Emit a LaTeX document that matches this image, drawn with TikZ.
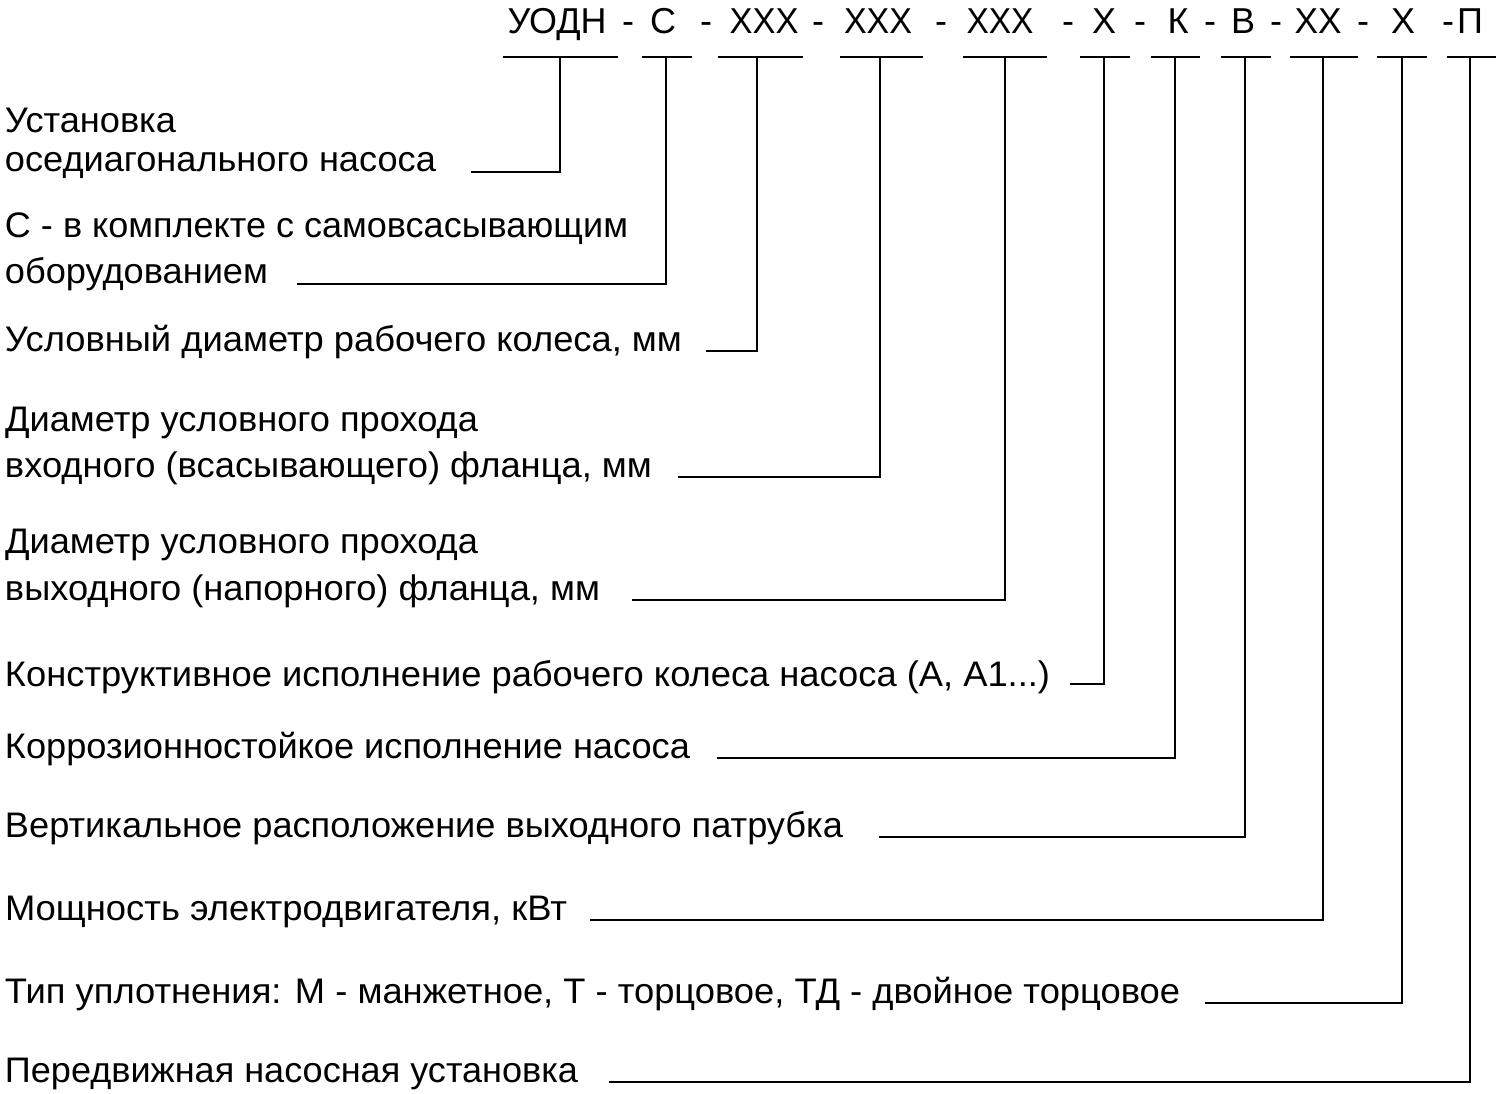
\documentclass[tikz,border=0pt]{standalone}
\usepackage{fontspec}
\setmainfont{Liberation Sans}
\usepackage{graphicx}
\newcommand\fitw[2]{\resizebox{#1pt}{\height}{#2}}
\begin{document}
\begin{tikzpicture}[x=1pt,y=-1pt,
  lbl/.style={anchor=base west,inner sep=0pt,outer sep=0pt,font=\fontsize{35.5}{40}\selectfont},
  hdr/.style={anchor=base,inner sep=0pt,outer sep=0pt,font=\fontsize{36}{40}\selectfont},
  conn/.style={line width=1.6pt,black}]
\useasboundingbox (0,0) rectangle (1498,1094);
% header
\node[hdr] (h1) at (557,34) {\fitw{99}{УОДН}};
\node[hdr] (d1) at (628,34) {-};
\node[hdr] (h2) at (663,34) {С};
\node[hdr] (d2) at (706,34) {-};
\node[hdr] (h3) at (764,34) {\fitw{69}{ХХХ}};
\node[hdr] (d3) at (818,34) {-};
\node[hdr] (h4) at (878,34) {\fitw{68}{ХХХ}};
\node[hdr] (d4) at (941,34) {-};
\node[hdr] (h5) at (1000,34) {\fitw{67}{ХХХ}};
\node[hdr] (d5) at (1068,34) {-};
\node[hdr] (h6) at (1104,34) {Х};
\node[hdr] (d6) at (1140,34) {-};
\node[hdr] (h7) at (1178,34) {К};
\node[hdr] (d7) at (1210,34) {-};
\node[hdr] (h8) at (1243,34) {В};
\node[hdr] (d8) at (1276,34) {-};
\node[hdr] (h9) at (1318,34) {\fitw{47}{ХХ}};
\node[hdr] (d9) at (1363,34) {-};
\node[hdr] (h10) at (1403,34) {Х};
\node[hdr] (d10) at (1448,34) {-};
\node[hdr] (h11) at (1470,34) {П};
% labels
\node[lbl] (l1a) at (5,133) {\fitw{171}{Установка}};
\node[lbl] (l1b) at (5,172) {\fitw{431}{оседиагонального насоса}};
\node[lbl] (l2a) at (5,237) {\fitw{623}{С - в комплекте с самовсасывающим}};
\node[lbl] (l2b) at (5,283) {\fitw{263}{оборудованием}};
\node[lbl] (l3) at (5,351) {\fitw{677}{Условный диаметр рабочего колеса, мм}};
\node[lbl] (l4a) at (5,431) {\fitw{473}{Диаметр условного прохода}};
\node[lbl] (l4b) at (5,477) {\fitw{647}{входного (всасывающего) фланца, мм}};
\node[lbl] (l5a) at (5,553) {\fitw{473}{Диаметр условного прохода}};
\node[lbl] (l5b) at (5,600) {\fitw{595}{выходного (напорного) фланца, мм}};
\node[lbl] (l6) at (5,686) {\fitw{1045}{Конструктивное исполнение рабочего колеса насоса (А, А1...)}};
\node[lbl] (l7) at (5,758) {\fitw{685}{Коррозионностойкое исполнение насоса}};
\node[lbl] (l8) at (5,837) {\fitw{838}{Вертикальное расположение выходного патрубка}};
\node[lbl] (l9) at (5,920) {\fitw{562}{Мощность электродвигателя, кВт}};
\node[lbl] (l10) at (5,1003) {\fitw{1175}{Тип уплотнения: М - манжетное, Т - торцовое, ТД - двойное торцовое}};
\node[lbl] (l11) at (5,1082) {\fitw{573}{Передвижная насосная установка}};
% bar coordinates
\coordinate (b1l) at (503,57);  \coordinate (b1r) at (618,57);  \coordinate (t1) at (560,57);  \coordinate (e1) at (471,172);
\coordinate (b2l) at (642,57);  \coordinate (b2r) at (692,57);  \coordinate (t2) at (666,57);  \coordinate (e2) at (297,284);
\coordinate (b3l) at (718,57);  \coordinate (b3r) at (803,57);  \coordinate (t3) at (757,57);  \coordinate (e3) at (706,351);
\coordinate (b4l) at (840,57);  \coordinate (b4r) at (923,57);  \coordinate (t4) at (880,57);  \coordinate (e4) at (678,477);
\coordinate (b5l) at (963,57);  \coordinate (b5r) at (1047,57); \coordinate (t5) at (1005,57); \coordinate (e5) at (632,600);
\coordinate (b6l) at (1080,57); \coordinate (b6r) at (1130,57); \coordinate (t6) at (1104,57); \coordinate (e6) at (1070,684);
\coordinate (b7l) at (1151,57); \coordinate (b7r) at (1200,57); \coordinate (t7) at (1175,57); \coordinate (e7) at (717,758);
\coordinate (b8l) at (1221,57); \coordinate (b8r) at (1271,57); \coordinate (t8) at (1245,57); \coordinate (e8) at (879,837);
\coordinate (b9l) at (1290,57); \coordinate (b9r) at (1358,57); \coordinate (t9) at (1323,57); \coordinate (e9) at (590,920);
\coordinate (b10l) at (1377,57); \coordinate (b10r) at (1427,57); \coordinate (t10) at (1402,57); \coordinate (e10) at (1205,1003);
\coordinate (b11l) at (1447,57); \coordinate (b11r) at (1496,57); \coordinate (t11) at (1470,57); \coordinate (e11) at (609,1082);
\foreach \i in {1,...,11}{
  \draw[conn] (b\i l) -- (b\i r);
  \draw[conn] (t\i) |- (e\i);
}
\end{tikzpicture}
\end{document}
